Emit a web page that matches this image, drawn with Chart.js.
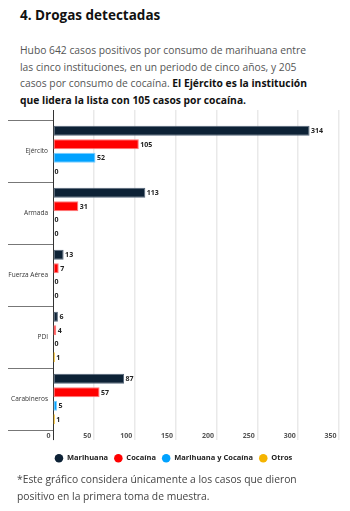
<!DOCTYPE html>
<html>
<head>
<meta charset="utf-8">
<script src="https://cdn.jsdelivr.net/npm/chart.js@4"></script>
<style>
  html, body { margin:0; padding:0; background:#fff; width:350px; height:511px; overflow:hidden; }
  body { position:relative; font-family:"Open Sans", sans-serif; }
  #title { position:absolute; left:20px; top:6px; font-size:13.5px; font-weight:700; color:#111; line-height:18px; white-space:nowrap; }
  #para { position:absolute; left:20px; top:42px; font-size:10.3px; color:#555; line-height:16.7px; white-space:nowrap; }
  #para b { color:#111; }
  #note { position:absolute; left:17px; top:471px; font-size:10.3px; color:#444; line-height:17px; white-space:nowrap; }
  #wrap { position:absolute; left:0; top:100px; width:350px; height:375px; }
</style>
</head>
<body>
<div id="title">4. Drogas detectadas</div>
<div id="para">Hubo 642 casos positivos por consumo de marihuana entre<br>las cinco instituciones, en un periodo de cinco años, y 205<br>casos por consumo de cocaína. <b>El Ejército es la institución</b><br><b>que lidera la lista con 105 casos por cocaína.</b></div>
<div id="wrap"><canvas id="c"></canvas></div>
<div id="note">*Este gráfico considera únicamente a los casos que dieron<br>positivo en la primera toma de muestra.</div>
<script>
const categories = ["Ejército", "Armada", "Fuerza Aérea", "PDI", "Carabineros"];
const seriesNames = ["Marihuana", "Cocaína", "Marihuana y Cocaína", "Otros"];
const marihuana = [314, 113, 13, 6, 87];
const cocaina = [105, 31, 7, 4, 57];
const marihuanaCocaina = [52, 0, 0, 0, 5];
const otros = [0, 0, 0, 1, 1];
const xTicks = [0, 50, 100, 150, 200, 250, 300, 350];

const colors = ["#0d2236", "#ff0000", "#00a2ff", "#f5b400"];
const borders = ["#56677a", "#ff7a7a", "#7fcfff", "#f5b400"];
const values = [marihuana, cocaina, marihuanaCocaina, otros];

const labelPlugin = {
  id: 'barLabels',
  afterDatasetsDraw(chart) {
    const ctx = chart.ctx;
    const xs = chart.scales.x;
    ctx.save();
    ctx.font = "700 7px 'Open Sans', sans-serif";
    ctx.fillStyle = "#222";
    ctx.textAlign = "left";
    ctx.textBaseline = "middle";
    chart.data.datasets.forEach((ds, di) => {
      const meta = chart.getDatasetMeta(di);
      meta.data.forEach((bar, i) => {
        const v = ds.data[i];
        const end = Math.max(xs.getPixelForValue(v), v > 0 ? bar.x : 0);
        ctx.fillText(String(v), end + 1.5, bar.y + 0.5);
      });
    });
    ctx.restore();
  }
};

new Chart(document.getElementById('c'), {
  type: 'bar',
  data: {
    labels: categories,
    datasets: values.map((v, i) => ({
      label: seriesNames[i],
      data: v,
      backgroundColor: ctx => (ctx.raw ? colors[i] : 'rgba(0,0,0,0)'),
      borderColor: borders[i],
      borderWidth: ctx => (ctx.raw ? 1 : 0),
      borderSkipped: false,
      minBarLength: 1.8,
      categoryPercentage: 0.87,
      barPercentage: 0.74
    }))
  },
  options: {
    indexAxis: 'y',
    responsive: true,
    maintainAspectRatio: false,
    animation: false,
    layout: { padding: { left: 8, right: 11, top: 10, bottom: 3 } },
    plugins: {
      tooltip: { enabled: false },
      legend: {
        position: 'bottom',
        labels: {
          usePointStyle: true,
          pointStyle: 'circle',
          boxWidth: 8,
          pointStyleWidth: 8.5,
          boxHeight: 6,
          padding: 6,
          color: '#222',
          generateLabels: chart => chart.data.datasets.map((ds, i) => ({
            text: ds.label, fillStyle: colors[i], strokeStyle: colors[i],
            lineWidth: 0, pointStyle: 'circle', datasetIndex: i, hidden: false, fontColor: '#222'
          })),
          font: { family: "'Open Sans', sans-serif", size: 7.5, weight: '700' }
        }
      }
    },
    scales: {
      x: {
        type: 'linear',
        position: 'bottom',
        min: 0, max: 350,
        afterBuildTicks: s => { s.ticks = xTicks.map(v => ({ value: v })); },
        afterFit: s => { s.height += 17; },
        grid: {
          color: c => (c.tick && c.tick.value === 0 ? '#333' : '#e9e9e9'),
          lineWidth: c => (c.tick && c.tick.value === 0 ? 1 : 1.5),
          tickLength: 10,
          drawTicks: true
        },
        border: { display: false },
        ticks: {
          align: 'end',
          labelOffset: -2.5,
          padding: -8.5,
          color: '#555',
          font: { family: "'Open Sans', sans-serif", size: 7, weight: '700' },
          maxRotation: 0,
          autoSkip: false
        }
      },
      x2: {
        type: 'linear',
        position: 'top',
        min: 0, max: 350,
        afterBuildTicks: s => { s.ticks = xTicks.map(v => ({ value: v })); },
        grid: {
          color: c => (c.tick && c.tick.value === 0 ? '#333' : '#e9e9e9'),
          lineWidth: c => (c.tick && c.tick.value === 0 ? 1 : 1.5),
          tickLength: 10,
          drawOnChartArea: false
        },
        border: { display: false },
        ticks: { display: false }
      },
      y: {
        type: 'category',
        position: 'left',
        afterFit: s => { s.width = 45; },
        grid: {
          offset: true,
          drawOnChartArea: false,
          tickLength: 45,
          color: '#777',
          lineWidth: 1
        },
        border: { display: true, color: '#333', width: 1 },
        ticks: {
          padding: -40,
          color: '#333',
          font: { family: "'Open Sans', sans-serif", size: 6.5 },
          autoSkip: false
        }
      }
    }
  },
  plugins: [labelPlugin]
});
</script>
</body>
</html>
